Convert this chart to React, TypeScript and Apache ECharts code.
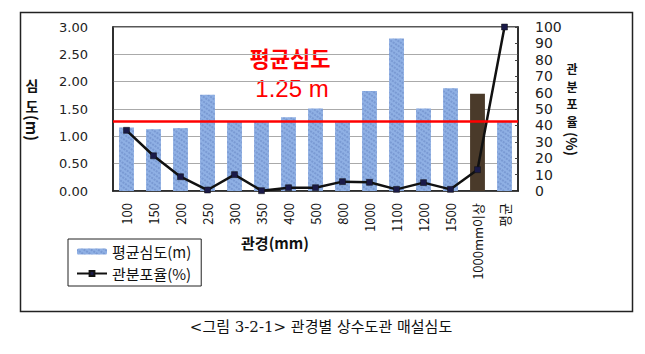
import React, { useEffect, useRef } from "react";
import * as echarts from "echarts";

const categories = ["100", "150", "200", "250", "300", "350", "400", "500", "800", "1000", "1100", "1200", "1500", "1000mm이상", "평균"];
const depthValues = [1.16, 1.13, 1.15, 1.76, 1.27, 1.28, 1.35, 1.51, 1.27, 1.83, 2.79, 1.51, 1.88, 1.78, 1.27];
const shareValues = [37, 21.5, 8.7, 0.6, 10, 0.2, 2, 2, 5.7, 5.3, 1, 5.1, 1, 13, 100];
const meanDepth = 1.28;
const leftTicks = [0, 3, 0.5];
const rightTicks = [0, 100, 10];

const KR = "'Noto Sans CJK KR', 'DejaVu Sans', sans-serif";

export default function App() {
  const ref = useRef<HTMLDivElement>(null);
  useEffect(() => {
    if (!ref.current) return;
    const chart = echarts.init(ref.current, null, { renderer: "svg" });
    const highlightIndex = 13;
    const vchar = (t: string, x: number, y: number, size: number) => ({
      type: "text", x, y,
      style: { text: t, fill: "#111", font: `bold ${size}px ${KR}`, textAlign: "center", textVerticalAlign: "middle", lineHeight: size },
    });
    chart.setOption({
      animation: false,
      backgroundColor: "#fff",
      grid: { left: 113, right: 127, top: 27, bottom: 163, show: true, borderColor: "#222", borderWidth: 1.5 },
      legend: {
        orient: "vertical",
        left: 68,
        top: 239,
        width: 155,
        padding: [5, 10, 5, 8],
        itemGap: 7,
        itemWidth: 30,
        itemHeight: 6,
        borderColor: "#222",
        borderWidth: 1,
        textStyle: { fontFamily: KR, fontSize: 15, color: "#111" },
        data: ["평균심도(m)", "관분포율(%)"],
      },
      xAxis: {
        type: "category",
        data: categories,
        axisLine: { lineStyle: { color: "#222", width: 1.5 } },
        axisTick: { inside: true, length: 4, lineStyle: { color: "#444" } },
        axisLabel: { rotate: 90, interval: 0, fontFamily: KR, fontSize: 13, color: "#111", margin: 12 },
      },
      yAxis: [
        {
          type: "value",
          min: leftTicks[0],
          max: leftTicks[1],
          interval: leftTicks[2],
          axisLine: { show: true, lineStyle: { color: "#222", width: 1.5 } },
          axisTick: { show: false },
          splitLine: { lineStyle: { color: "#aaa", width: 1 } },
          axisLabel: { fontFamily: "'DejaVu Sans', sans-serif", fontSize: 13, color: "#222", margin: 25, formatter: (v: number) => v.toFixed(2) },
        },
        {
          type: "value",
          min: rightTicks[0],
          max: rightTicks[1],
          interval: rightTicks[2],
          axisLine: { show: true, lineStyle: { color: "#222", width: 1.5 } },
          axisTick: { show: true, inside: true, length: 3, lineStyle: { color: "#444" } },
          splitLine: { show: false },
          axisLabel: { fontFamily: "'DejaVu Sans', sans-serif", fontSize: 14, color: "#222", margin: 17 },
        },
      ],
      series: [
        {
          name: "평균심도(m)",
          type: "bar",
          yAxisIndex: 0,
          barWidth: "55%",
          itemStyle: {
            color: "#8fb0e4",
            decal: { symbol: "rect", symbolSize: 0.7, dashArrayX: [2, 1], dashArrayY: [2, 2], rotation: 0.6, color: "rgba(50,85,160,0.45)" },
          },
          data: depthValues.map((v, i) => (i === highlightIndex ? { value: v, itemStyle: { color: "#4a3a2a", decal: "none" } } : v)),
          markLine: {
            silent: true,
            symbol: ["none", "none"],
            label: { show: false },
            lineStyle: { color: "#ff0000", width: 2.5, type: "solid" },
            data: [{ yAxis: meanDepth }],
          },
        },
        {
          name: "관분포율(%)",
          type: "line",
          yAxisIndex: 1,
          data: shareValues,
          symbol: "rect",
          symbolSize: 6,
          lineStyle: { color: "#111", width: 2.5 },
          itemStyle: { color: "#1a1a48", borderColor: "#111", borderWidth: 0.5 },
        },
      ],
      graphic: [
        { type: "rect", shape: { x: 20.5, y: 12.5, width: 612, height: 299 }, style: { fill: "none", stroke: "#222", lineWidth: 1.5 } },
        { type: "text", x: 290, y: 57, style: { text: "평균심도", fill: "#ff0000", font: `bold 22px ${KR}`, textAlign: "center", textVerticalAlign: "middle" } },
        { type: "text", x: 292, y: 88, style: { text: "1.25 m", fill: "#ff0000", font: `24px 'Liberation Sans', Arial, sans-serif`, textAlign: "center", textVerticalAlign: "middle" } },
        vchar("심", 32, 85, 14),
        vchar("도", 32, 106, 14),
        { type: "text", x: 32, y: 128, rotation: -Math.PI / 2, style: { text: "(m)", fill: "#111", font: `bold 15px ${KR}`, textAlign: "center", textVerticalAlign: "middle" } },
        vchar("관", 572, 68.5, 12),
        vchar("분", 572, 86, 12),
        vchar("포", 572, 103.5, 12),
        vchar("율", 572, 121, 12),
        { type: "text", x: 572, y: 144, rotation: -Math.PI / 2, style: { text: "(%)", fill: "#111", font: `bold 14px ${KR}`, textAlign: "center", textVerticalAlign: "middle" } },
        { type: "text", x: 275, y: 242, style: { text: "관경(mm)", fill: "#111", font: `bold 15px ${KR}`, textAlign: "center", textVerticalAlign: "middle" } },
        { type: "text", x: 321, y: 327, style: { text: "<그림 3-2-1> 관경별 상수도관 매설심도", fill: "#111", font: `15px 'DejaVu Serif', ${KR}`, textAlign: "center", textVerticalAlign: "middle" } },
      ],
    });
    return () => chart.dispose();
  }, []);
  return <div ref={ref} style={{ position: "fixed", left: 0, top: 0, width: 645, height: 354, background: "#fff" }} />;
}
